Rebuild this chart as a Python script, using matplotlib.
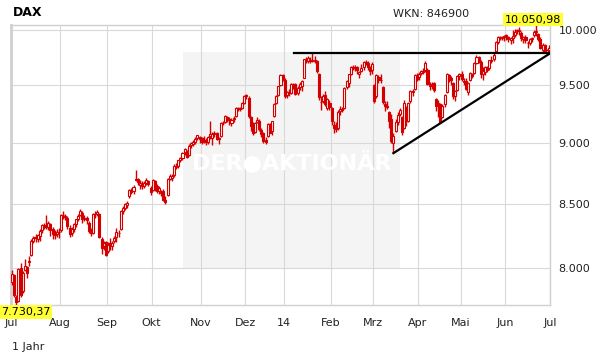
import numpy as np
import matplotlib.pyplot as plt
from matplotlib.ticker import FixedLocator, NullLocator
from matplotlib.patches import Rectangle

plt.rcParams['font.family'] = 'DejaVu Sans'
plt.rcParams['font.size'] = 7.5

# Monate (Handelstage je Monat, Jul 2013 - Jun 2014)
month_labels = ['Jul', 'Aug', 'Sep', 'Okt', 'Nov', 'Dez', '14', 'Feb', 'Mrz', 'Apr', 'Mai', 'Jun', 'Jul']
month_days = [23, 22, 21, 23, 21, 18, 22, 20, 21, 20, 21, 21]

# Tageskerzen DAX (Open / High / Low / Close)
opens = [
    7900, 7950, 7790, 7760, 8000, 7830, 7990, 8010, 8050, 8100, 8210, 8240, 8220, 8250, 8290, 8330, 8320, 8320, 8340, 8300, 8260, 8260, 8280,
    8290, 8410, 8400, 8390, 8310, 8270, 8300, 8340, 8380, 8410, 8430, 8380, 8390, 8350, 8290, 8270, 8420, 8420, 8420, 8220, 8170, 8200,
    8130, 8190, 8170, 8210, 8240, 8270, 8300, 8440, 8470, 8490, 8560, 8610, 8600, 8700, 8700, 8650, 8660, 8640, 8670, 8680, 8630,
    8610, 8680, 8640, 8600, 8590, 8600, 8530, 8570, 8700, 8710, 8730, 8800, 8810, 8860, 8870, 8920, 8930, 8900, 8980, 8990, 9010, 9040, 9050,
    9040, 9020, 9020, 9010, 9060, 9040, 9080, 9080, 9030, 9060, 9170, 9180, 9220, 9200, 9170, 9200, 9230, 9300, 9290, 9300, 9340,
    9410, 9390, 9220, 9150, 9090, 9180, 9190, 9110, 9080, 9020, 9060, 9160, 9100, 9230, 9340, 9410, 9500, 9590,
    9550, 9410, 9440, 9430, 9500, 9510, 9430, 9480, 9490, 9560, 9730, 9720, 9730, 9720, 9730, 9720, 9600, 9350, 9360, 9410, 9300, 9340,
    9300, 9150, 9150, 9130, 9270, 9290, 9300, 9480, 9520, 9600, 9660, 9650, 9660, 9600, 9630, 9660, 9710, 9700, 9650, 9640,
    9500, 9400, 9570, 9550, 9480, 9330, 9320, 9260, 9200, 9000, 9100, 9180, 9250, 9220, 9130, 9310, 9190, 9360, 9440, 9470, 9580,
    9570, 9610, 9620, 9640, 9640, 9500, 9500, 9520, 9380, 9330, 9330, 9220, 9330, 9440, 9590, 9560, 9520, 9400, 9460, 9580,
    9600, 9540, 9540, 9440, 9550, 9600, 9610, 9700, 9750, 9710, 9600, 9620, 9660, 9650, 9730, 9740, 9810, 9890, 9940, 9930, 9940,
    9960, 9940, 9910, 9930, 9960, 9990, 10000, 9980, 9920, 9940, 9880, 9880, 9920, 9960, 9990, 9970, 9920, 9820, 9860, 9800, 9820,
]
highs = [
    7990, 7960, 7800, 8000, 8040, 7980, 8070, 8020, 8090, 8220, 8250, 8260, 8260, 8300, 8340, 8350, 8410, 8360, 8350, 8320, 8290, 8300, 8310,
    8420, 8440, 8420, 8400, 8330, 8320, 8350, 8380, 8420, 8460, 8440, 8410, 8400, 8360, 8310, 8430, 8440, 8450, 8430, 8240, 8210, 8210,
    8200, 8230, 8210, 8250, 8310, 8290, 8450, 8480, 8510, 8520, 8620, 8630, 8650, 8770, 8710, 8690, 8680, 8680, 8710, 8690, 8640,
    8700, 8690, 8660, 8640, 8610, 8620, 8560, 8710, 8740, 8740, 8820, 8830, 8860, 8880, 8920, 8960, 8940, 8990, 9010, 9020, 9050, 9070, 9060,
    9050, 9060, 9040, 9060, 9190, 9090, 9100, 9090, 9050, 9180, 9190, 9240, 9230, 9220, 9210, 9230, 9310, 9310, 9310, 9350, 9410,
    9420, 9400, 9230, 9180, 9180, 9220, 9200, 9130, 9090, 9050, 9170, 9170, 9190, 9340, 9410, 9490, 9600, 9600,
    9560, 9450, 9470, 9520, 9520, 9520, 9490, 9530, 9550, 9740, 9750, 9760, 9750, 9790, 9760, 9730, 9610, 9400, 9420, 9450, 9390, 9370,
    9310, 9190, 9180, 9280, 9320, 9310, 9480, 9550, 9600, 9670, 9680, 9680, 9670, 9630, 9690, 9720, 9730, 9720, 9670, 9710,
    9510, 9600, 9590, 9600, 9490, 9360, 9360, 9270, 9250, 9080, 9200, 9260, 9300, 9230, 9370, 9320, 9350, 9460, 9470, 9600, 9610,
    9620, 9640, 9650, 9720, 9650, 9530, 9530, 9530, 9390, 9370, 9340, 9330, 9420, 9610, 9600, 9580, 9530, 9460, 9590, 9610,
    9630, 9560, 9560, 9530, 9620, 9610, 9710, 9770, 9760, 9730, 9660, 9670, 9670, 9730, 9760, 9790, 9900, 9950, 9950, 9950, 9960,
    9970, 9950, 9940, 10000, 10010, 10010, 10030, 9990, 9950, 9960, 9900, 9930, 9940, 10000, 10050.98, 9980, 9940, 9880, 9870, 9830, 9860,
]
lows = [
    7880, 7790, 7730.37, 7755, 7790, 7820, 7980, 7930, 8020, 8090, 8190, 8200, 8200, 8210, 8270, 8300, 8300, 8290, 8250, 8220, 8220, 8240, 8230,
    8280, 8380, 8370, 8300, 8240, 8250, 8280, 8320, 8360, 8400, 8350, 8360, 8340, 8270, 8250, 8260, 8390, 8400, 8230, 8110, 8140, 8090,
    8120, 8140, 8140, 8190, 8200, 8240, 8290, 8420, 8450, 8470, 8550, 8580, 8580, 8680, 8650, 8620, 8620, 8630, 8650, 8640, 8570,
    8600, 8600, 8590, 8580, 8560, 8520, 8500, 8560, 8690, 8680, 8720, 8780, 8790, 8840, 8860, 8900, 8870, 8890, 8960, 8970, 8990, 9020, 9000,
    8990, 9000, 8980, 8990, 9030, 8980, 9050, 9020, 8990, 9050, 9150, 9170, 9180, 9150, 9140, 9180, 9220, 9270, 9270, 9290, 9330,
    9380, 9210, 9100, 9070, 9080, 9170, 9100, 9050, 9000, 8990, 9050, 9080, 9070, 9220, 9330, 9400, 9490, 9540,
    9390, 9390, 9400, 9420, 9470, 9410, 9410, 9460, 9450, 9560, 9700, 9700, 9700, 9710, 9700, 9610, 9370, 9280, 9340, 9320, 9280, 9280,
    9150, 9080, 9090, 9110, 9240, 9260, 9290, 9470, 9480, 9590, 9640, 9630, 9600, 9560, 9620, 9640, 9680, 9640, 9590, 9600,
    9340, 9390, 9520, 9520, 9330, 9270, 9290, 9130, 9000, 8913, 9090, 9150, 9230, 9070, 9120, 9140, 9180, 9340, 9400, 9460, 9540,
    9550, 9590, 9600, 9620, 9500, 9460, 9470, 9440, 9270, 9220, 9166, 9210, 9310, 9430, 9530, 9500, 9380, 9360, 9450, 9550,
    9540, 9500, 9460, 9410, 9540, 9560, 9600, 9690, 9700, 9560, 9550, 9590, 9620, 9640, 9700, 9720, 9800, 9870, 9910, 9910, 9900,
    9910, 9890, 9870, 9880, 9940, 9970, 9960, 9900, 9880, 9880, 9840, 9860, 9890, 9940, 9950, 9900, 9830, 9790, 9790, 9780, 9800,
]
closes = [
    7959, 7806, 7750, 7994, 7806, 7969, 8019, 7968, 8059, 8212, 8234, 8228, 8251, 8286, 8331, 8318, 8319, 8349, 8297, 8260, 8256, 8276, 8276,
    8410, 8410, 8398, 8322, 8262, 8298, 8338, 8378, 8406, 8445, 8376, 8391, 8369, 8287, 8267, 8420, 8416, 8436, 8241, 8158, 8195, 8103,
    8180, 8180, 8195, 8235, 8275, 8274, 8445, 8470, 8495, 8510, 8613, 8597, 8638, 8694, 8675, 8665, 8640, 8665, 8693, 8661, 8594,
    8689, 8630, 8600, 8623, 8591, 8530, 8516, 8700, 8725, 8724, 8807, 8806, 8852, 8870, 8915, 8948, 8885, 8977, 8995, 9008, 9033, 9065, 9033,
    9010, 9021, 9007, 9052, 9078, 9078, 9076, 9034, 9037, 9168, 9168, 9225, 9197, 9193, 9193, 9213, 9299, 9292, 9299, 9345, 9405,
    9400, 9225, 9140, 9085, 9172, 9191, 9114, 9077, 9017, 9006, 9164, 9085, 9182, 9336, 9400, 9489, 9589, 9552,
    9400, 9435, 9428, 9506, 9498, 9421, 9473, 9511, 9540, 9734, 9717, 9742, 9716, 9730, 9720, 9631, 9392, 9349, 9406, 9336, 9374, 9306,
    9186, 9128, 9116, 9265, 9290, 9285, 9478, 9540, 9596, 9663, 9657, 9660, 9640, 9618, 9656, 9708, 9699, 9661, 9631, 9692,
    9358, 9589, 9543, 9542, 9351, 9312, 9308, 9189, 9018, 9056, 9181, 9242, 9277, 9093, 9343, 9189, 9338, 9448, 9451, 9588, 9556,
    9604, 9623, 9629, 9695, 9510, 9490, 9507, 9454, 9315, 9339, 9174, 9318, 9409, 9601, 9545, 9549, 9401, 9446, 9584, 9603,
    9556, 9530, 9467, 9521, 9607, 9581, 9703, 9754, 9710, 9600, 9630, 9659, 9639, 9722, 9720, 9768, 9892, 9940, 9939, 9938, 9943,
    9950, 9920, 9927, 9948, 9987, 10008, 9990, 9925, 9938, 9912, 9883, 9920, 9928, 9987, 9987, 9920, 9837, 9867, 9805, 9815, 9833,
]

y_ticks = [8000, 8500, 9000, 9500, 10000]
y_tick_labels = ['8.000', '8.500', '9.000', '9.500', '10.000']
low_label = '7.730,37'
high_label = '10.050,98'

# Trendlinien (Handelstag, Punkte)
resist_x = [133, 253]
resist_y = [9787, 9787]
support_x = [179.5, 253]
support_y = [8913, 9787]

red = '#d40000'
grid_col = '#d9d9d9'

fig = plt.figure(figsize=(6.11, 3.64), dpi=100)
ax = fig.add_axes([11 / 611, 59 / 364, 539 / 611, 280 / 364])
ax.set_yscale('log')

n = len(closes)
x = np.arange(n) + 0.5
o = np.array(opens, dtype=float)
c = np.array(closes, dtype=float)
h = np.array(highs, dtype=float)
l = np.array(lows, dtype=float)
up = c >= o

# Hintergrund-Box mit Wasserzeichen
ax.add_patch(Rectangle((0.319, 0.132), 0.403, 0.772, transform=ax.transAxes,
                       facecolor='#f4f4f4', edgecolor='none', zorder=0.2))
ax.text(0.521, 0.51, 'DER\u25CFAKTIONÄR', transform=ax.transAxes, color='white',
        fontsize=16, fontweight='bold', ha='center', va='center', zorder=1.5)

# Kerzen
ax.vlines(x, l, h, color=red, lw=1.0, zorder=3)
bottoms = np.minimum(o, c)
heights = np.maximum(np.abs(c - o), 4)
ax.bar(x[up], heights[up], bottom=bottoms[up], width=0.95, facecolor='white',
       edgecolor=red, lw=0.8, zorder=4)
ax.bar(x[~up], heights[~up], bottom=bottoms[~up], width=0.95, facecolor=red,
       edgecolor=red, lw=0.8, zorder=4)

# Trendlinien
ax.plot(resist_x, resist_y, color='black', lw=1.6, zorder=5)
ax.plot(support_x, support_y, color='black', lw=1.6, zorder=5)

ax.set_xlim(0, n)
ax.set_ylim(min(lows), max(highs))

month_pos = np.concatenate([[0], np.cumsum(month_days)])
ax.xaxis.set_major_locator(FixedLocator(month_pos))
ax.set_xticklabels(month_labels)
ax.yaxis.set_major_locator(FixedLocator(y_ticks))
ax.yaxis.set_minor_locator(NullLocator())
ax.set_yticklabels(y_tick_labels)
ax.yaxis.tick_right()
ax.tick_params(axis='y', length=0, pad=6, labelsize=8, labelcolor='#222222')
ax.tick_params(axis='x', length=0, pad=9, labelsize=8, labelcolor='#222222')

ax.set_axisbelow(True)
ax.grid(True, color=grid_col, lw=0.8)
for side, sp in ax.spines.items():
    sp.set_color('#d0d0d0')
    sp.set_linewidth(1.0)
ax.spines['left'].set_linewidth(2.0)

# Texte
fig.text(13 / 611, 1 - 13 / 364, 'DAX', fontsize=9, fontweight='bold', va='center')
fig.text(393 / 611, 1 - 14 / 364, 'WKN: 846900', fontsize=8, va='center', color='#222222')
fig.text(533 / 611, 1 - 19.5 / 364, high_label, fontsize=8, ha='center', va='center',
         bbox=dict(facecolor='#ffff33', edgecolor='none', pad=1.2))
fig.text(1 / 611, 1 - 312 / 364, low_label, fontsize=8, ha='left', va='center',
         bbox=dict(facecolor='#ffff33', edgecolor='none', pad=1.2))
fig.text(12 / 611, 1 - 347 / 364, '1 Jahr', fontsize=8, va='center', color='#222222')

plt.savefig('out.png', dpi=100)
